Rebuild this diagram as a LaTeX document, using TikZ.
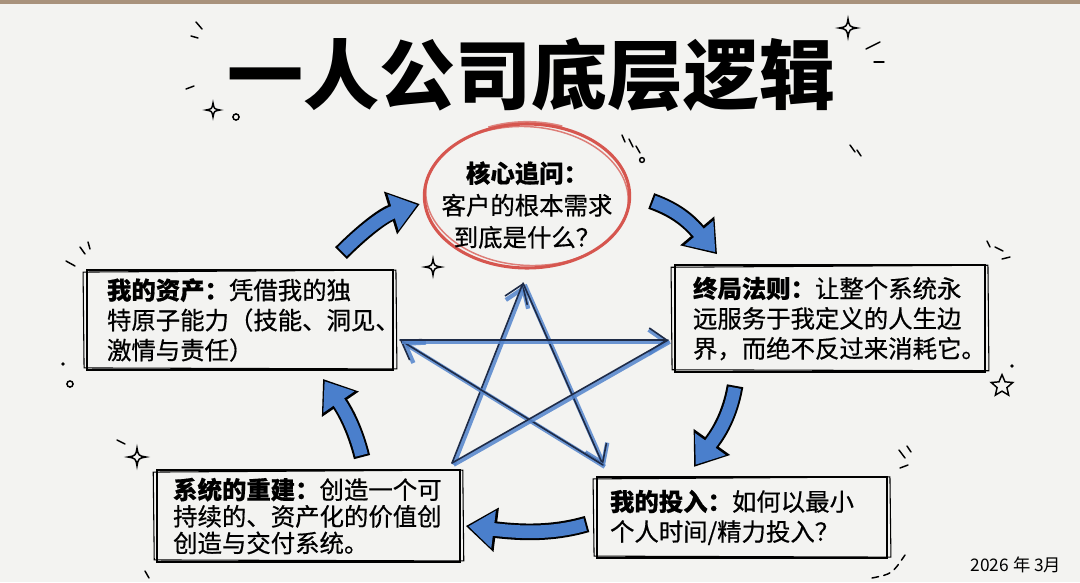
\documentclass[tikz,border=0pt]{standalone}
\usepackage{fontspec}
\setmainfont{Noto Sans CJK SC}
\newfontfamily\heavycjk{Noto Sans CJK SC}[FakeBold=0.6]
\usepackage{xcolor}
\definecolor{paper}{HTML}{F3F3F1}
\definecolor{framebrown}{HTML}{A8927C}
\definecolor{ringred}{HTML}{D6564F}
\definecolor{arrowblue}{HTML}{4A7FCC}
\definecolor{starblue}{HTML}{5384CC}
\definecolor{starnavy}{HTML}{1E2B47}
\usetikzlibrary{arrows.meta,calc,positioning,shapes.geometric}

\newcommand\sparkle[3]{%
  \draw[deco] (#1,{#2-#3}) .. controls ({#1+0.15*#3},{#2-0.15*#3}) .. ({#1+#3},#2)
    .. controls ({#1+0.15*#3},{#2+0.15*#3}) .. (#1,{#2+#3})
    .. controls ({#1-0.15*#3},{#2+0.15*#3}) .. ({#1-#3},#2)
    .. controls ({#1-0.15*#3},{#2-0.15*#3}) .. cycle;}
\newcommand\blockarrow[1]{\draw[blockline] #1; \draw[blockfill] #1;}

\begin{document}
\begin{tikzpicture}[x=0.75pt,y=-0.75pt]

    \tikzset{
      textbox/.style={draw, line width=1.4pt, align=left, inner ysep=0pt,
        font=\heavycjk\fontsize{18.3pt}{22.5pt}\selectfont},
      boxtwo/.style={line width=0.8pt},
      deco/.style={line width=1.1pt, line cap=round},
      blockline/.style={line width=12.5pt, -{Triangle[width=32pt,length=23pt]}},
      blockfill/.style={arrowblue, line width=9.5pt, shorten >=2pt, shorten <=1.5pt,
        -{Triangle[width=27pt,length=19pt]}},
      starhead/.style={-{Straight Barb[length=13pt,width=18pt]}},
      starunder/.style={starblue, line width=3.2pt, opacity=0.85,
        transform canvas={shift={(1.3pt,-1.3pt)}}},
      starline/.style={starnavy, line width=1.2pt, line cap=round},
    }
    \fill[paper] (0,0) rectangle (1080,582);
    \fill[framebrown] (0,0) rectangle (1080,4);
    \useasboundingbox (0,0) rectangle (1080,582);

    \node[font=\bfseries\fontsize{57pt}{60pt}\selectfont] (title) at (531,75) {一人公司底层逻辑};

    % centre question
    \node[ellipse, draw=ringred, line width=2.3pt, minimum width=154pt, minimum height=108pt] (core) at (527,196) {};
    \draw[ringred, line width=1.1pt, opacity=0.75, rotate around={-4:(core.center)}] (core.center) ellipse [x radius=76pt, y radius=52pt];
    \draw[ringred, line width=2.6pt, opacity=0.7] ([shift={(70:77pt and 55pt)}]core.center) arc[start angle=70, end angle=112, x radius=77pt, y radius=55pt];
    \node[align=center, font=\heavycjk\fontsize{18.3pt}{24pt}\selectfont] (coretext) at (527,205) {\textbf{核心追问：}\\客户的根本需求\\到底是什么？};

    \node[textbox, text width=199.5pt, inner xsep=15pt, minimum height=75pt] (asset) at (240,320)
      {\textbf{我的资产：}凭借我的独\\特原子能力（技能、洞见、\\激情与责任）};
    \node[textbox, text width=205.5pt, inner xsep=13.5pt, minimum height=80pt] (rule) at (830,318.5)
      {\textbf{终局法则：}让整个系统永\\远服务于我定义的人生边\\界，而绝不反过来消耗它。};
    \node[textbox, text width=203pt, inner xsep=12pt, minimum height=69pt,
      font=\heavycjk\fontsize{18.3pt}{20pt}\selectfont] (rebuild) at (308.5,516)
      {\textbf{系统的重建：}创造一个可\\持续的、资产化的价值创\\创造与交付系统。};
    \node[textbox, text width=198pt, inner xsep=9.75pt, minimum height=61pt] (input) at (742,517.5)
      {\textbf{我的投入：}如何以最小\\个人时间/精力投入？};

    \foreach \b in {asset,rule,rebuild,input}
      \draw[boxtwo] ([shift={(-3,3)}]\b.north west) -- ([shift={(2,1)}]\b.north east)
        -- ([shift={(3,-2)}]\b.south east) -- ([shift={(-2,-3)}]\b.south west) -- cycle;

    % cycle arrows
    \blockarrow{([shift={(-53,-16)}]asset.north east) .. controls +(22,-22) and +(-36,11) .. ([shift={(-3,8)}]core.west)}
    \blockarrow{([shift={(20,5)}]core.east) .. controls +(25,9) and +(-28,-33) .. ([shift={(43,-10)}]rule.north west)}
    \blockarrow{([shift={(61,13)}]rule.south west) .. controls +(-6,35) and +(20,-28) .. ([shift={(98,-9)}]input.north west)}
    \blockarrow{([shift={(-9,6.5)}]input.west) .. controls +(-28,8) and +(65,8) .. ([shift={(5,10)}]rebuild.east)}
    \blockarrow{([shift={(53.5,-12)}]rebuild.north) .. controls +(-7,-28) and +(22,32) .. ([shift={(83,8)}]asset.south)}

    % pentagram
    \coordinate (sT) at (523,283);
    \coordinate (sL) at (400,340);
    \coordinate (sR) at (668,340);
    \coordinate (sBL) at (452,463);
    \coordinate (sBR) at (603,465);
    \foreach \a/\b in {sBL/sT, sT/sBR, sBR/sL, sL/sR}{
      \draw[starunder, starhead] (\a) -- (\b);
      \draw[starline, starhead] (\a) -- (\b);
    }
    \draw[starunder] (sR) -- (sBL);
    \draw[starline] (sR) -- (sBL);

    % doodles
    \sparkle{213}{110}{7}
    \sparkle{848}{28}{9}
    \sparkle{433}{267}{8}
    \sparkle{137}{457}{9}
    \node[star, star points=5, star point ratio=2.2, draw, line width=1.1pt, minimum size=17pt, inner sep=0pt] (starmark) at (1002,386) {};
    \draw[deco] (236,117) circle (2.3pt);
    \draw[deco] (70,384) circle (2.3pt);
    \draw[deco] (642,160) circle (1.8pt);
    \fill (1012,366) circle (1.4pt);
    \fill (63,364) circle (1.4pt);
    \draw[deco] (196,22) -- (202,29);
    \draw[deco] (191,36) -- (198,38);
    \draw[deco] (186,89) -- (194,86);
    \draw[deco] (866,49) -- (880,42);
    \draw[deco] (874,62) -- (884,62);
    \draw[deco] (850,145) -- (855,152);
    \draw[deco] (857,150) -- (861,156);
    \draw[deco] (622,135) -- (625,142);
    \draw[deco] (629,139) -- (633,147);
    \draw[deco] (636,146) -- (640,153);
    \draw[deco] (80,247) -- (85,254);
    \draw[deco] (88,242) -- (90,249);
    \draw[deco] (66,261) -- (75,266);
    \draw[deco] (987,241) -- (990,247);
    \draw[deco] (995,247) -- (1003,251);
    \draw[deco] (1002,259) -- (1010,257);
    \draw[deco] (899,450) -- (905,458);
    \draw[deco] (907,446) -- (911,452);
    \draw[deco] (900,468) -- (908,465);
    \draw[deco] (117,440) -- (125,444);
    \draw[deco] (145,571) -- (149,578);
    \draw[deco, dash pattern=on 5pt off 4pt] (872,578) .. controls (892,574) .. (905,555);

    \node[font=\fontsize{13pt}{15pt}\selectfont] (date) at (1016,565) {2026 年 3月};

\end{tikzpicture}
\end{document}
